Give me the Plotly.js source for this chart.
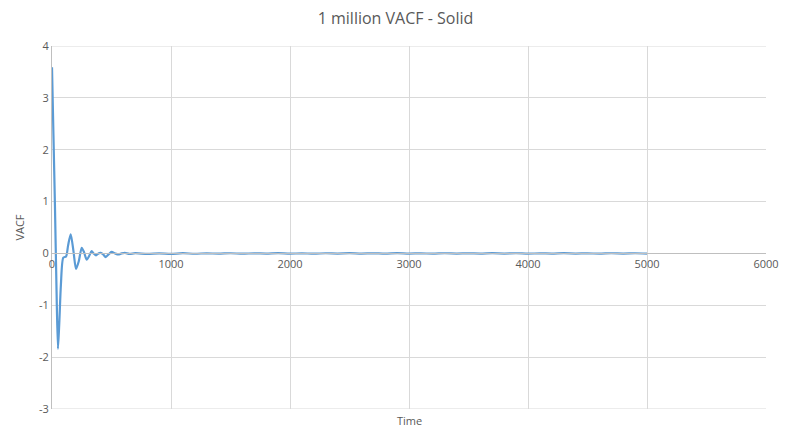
<!DOCTYPE html>
<html>
<head>
<meta charset="utf-8">
<script src="https://cdn.plot.ly/plotly-3.0.1.min.js"></script>
<style>
  html, body { margin: 0; padding: 0; background: #fff; }
  #chart { width: 791px; height: 435px; }
</style>
</head>
<body>
<div id="chart"></div>
<script>
var timeSteps = [0, 12, 25, 38, 50, 62, 75, 95, 118, 135, 157, 180, 202, 225, 250, 270, 291, 312, 333, 350, 370, 390, 409, 430, 451, 475, 501, 530, 557, 585, 613, 650, 700,
  800, 900, 1000, 1100, 1200, 1300, 1400, 1500, 1600, 1700, 1800, 1900, 2000, 2100, 2200, 2300, 2400, 2500,
  2600, 2700, 2800, 2900, 3000, 3100, 3200, 3300, 3400, 3500, 3600, 3700, 3800, 3900, 4000, 4100, 4200,
  4300, 4400, 4500, 4600, 4700, 4800, 4900, 5000];
var vacf = [3.59, 2.3, 0.9, -0.7, -1.84, -1.3, -0.6, -0.08, -0.06, 0.15, 0.37, 0.05, -0.30, -0.15, 0.11, 0.02, -0.12, -0.05, 0.045, 0.0, -0.04, 0.0, 0.01, -0.02, -0.07, -0.02, 0.03, 0.0, -0.02, 0.0, 0.01, -0.01, 0.005,
  -0.01, 0.0, -0.008, 0.004, -0.006, 0.002, -0.004, 0.003, -0.005, 0.002, -0.003, 0.004, -0.004, 0.002, -0.005, 0.003, -0.002, 0.004,
  -0.003, 0.002, -0.004, 0.006, -0.003, 0.002, -0.004, 0.003, -0.002, 0.002, -0.003, 0.004, -0.002, 0.003, -0.004, 0.002, -0.003,
  0.004, -0.002, 0.002, -0.004, 0.003, -0.002, 0.003, -0.002];

var xTicks = [0, 1000, 2000, 3000, 4000, 5000, 6000];
var yTicks = [-3, -2, -1, 0, 1, 2, 3, 4];

var trace = {
  x: timeSteps,
  y: vacf,
  type: 'scatter',
  mode: 'lines',
  line: { color: '#5b9bd5', width: 2.2, shape: 'spline', smoothing: 0.7 },
  hoverinfo: 'x+y'
};

// top and bottom gridlines at the range edges (Plotly drops them)
var edgeLines = [4, -3].map(function (v) {
  return {
    type: 'line', xref: 'paper', yref: 'y',
    x0: 0, x1: 1, y0: v, y1: v,
    line: { color: '#d9d9d9', width: 1 },
    layer: 'below'
  };
});

var layout = {
  width: 791,
  height: 435,
  showlegend: false,
  paper_bgcolor: '#ffffff',
  plot_bgcolor: '#ffffff',
  margin: { l: 52, r: 25, t: 46, b: 26 },
  font: { family: 'Open Sans, sans-serif', color: '#595959', size: 11 },
  title: {
    text: '1 million VACF - Solid',
    font: { family: 'Open Sans, sans-serif', size: 16, color: '#595959' },
    x: 0.5, xanchor: 'center', y: 0.958, yanchor: 'middle'
  },
  xaxis: {
    range: [0, 6000],
    tickvals: xTicks,
    ticktext: xTicks.map(String),
    showgrid: true,
    gridcolor: '#d9d9d9',
    zeroline: false,
    showline: true,
    linecolor: '#bfbfbf',
    ticks: '',
    anchor: 'free',
    position: 3 / 7,
    tickfont: { size: 11, color: '#595959' }
  },
  yaxis: {
    range: [-3, 4],
    tickvals: yTicks,
    ticktext: yTicks.map(String),
    showgrid: true,
    gridcolor: '#d9d9d9',
    zeroline: false,
    showline: true,
    linecolor: '#bfbfbf',
    ticks: '',
    tickfont: { size: 11, color: '#595959' },
    title: { text: 'VACF', font: { size: 11, color: '#595959' }, standoff: 12 }
  },
  shapes: edgeLines,
  annotations: [{
    text: 'Time',
    xref: 'paper', yref: 'paper',
    x: 0.5, y: -0.006,
    xanchor: 'center', yanchor: 'top',
    showarrow: false,
    font: { size: 11, color: '#595959' }
  }]
};

Plotly.newPlot('chart', [trace], layout, { displayModeBar: false, staticPlot: true });
</script>
</body>
</html>
